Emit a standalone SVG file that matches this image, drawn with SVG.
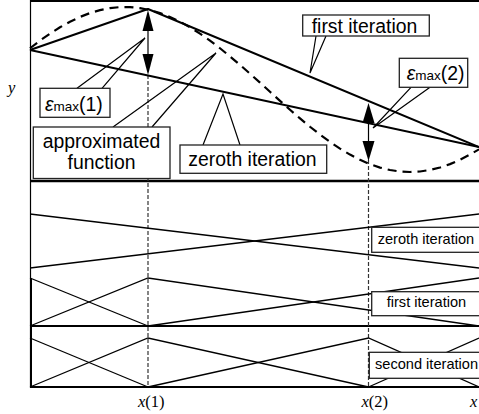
<svg xmlns="http://www.w3.org/2000/svg" width="479" height="414" viewBox="0 0 479 414">
<style>
.frame{stroke:#000;fill:none}
.curve{stroke:#000;stroke-width:2;fill:none;stroke-linejoin:round}
.dash{stroke:#000;stroke-width:2.2;fill:none;stroke-dasharray:9 6}
.guide{stroke:#333;stroke-width:1.2;fill:none;stroke-dasharray:4 2}
.hat{stroke:#000;stroke-width:1.3;fill:none}
.ptr{stroke:#000;stroke-width:1.2;fill:none}
.box{fill:#fff;stroke:#222;stroke-width:1.3}
.big{font-family:"Liberation Sans",Arial,sans-serif;font-size:19.4px;fill:#000}
.small{font-family:"Liberation Sans",Arial,sans-serif;font-size:14.6px;fill:#000}
.ax{font-family:"Liberation Serif","Times New Roman",serif;font-size:16.5px;fill:#000}
.head{fill:#000}
</style>
<g id="frame">
<line class="frame" x1="30" y1="1" x2="479" y2="1" stroke-width="2"/>
<line class="frame" x1="30.5" y1="0" x2="30.5" y2="388" stroke-width="1.2"/>
<line class="frame" x1="31" y1="278" x2="31" y2="388" stroke-width="2"/>
<line class="frame" x1="30" y1="181" x2="479" y2="181" stroke-width="2.5"/>
<line class="frame" x1="30" y1="326" x2="479" y2="326" stroke-width="2.2"/>
<line class="frame" x1="30" y1="387" x2="479" y2="387" stroke-width="2.2"/>
</g>
<g id="connectors">
<line class="guide" x1="148" y1="75" x2="148" y2="387"/>
<line class="guide" x1="368.5" y1="160" x2="368.5" y2="387"/>
<polyline class="hat" points="30,214 479,268"/>
<polyline class="hat" points="30,268 479,214"/>
<polyline class="hat" points="30,278 148,326"/>
<polyline class="hat" points="30,326 148,278 479,326"/>
<polyline class="hat" points="148,326 479,278"/>
<polyline class="hat" points="30,338 148,387"/>
<polyline class="hat" points="30,387 148,338 368.5,387"/>
<polyline class="hat" points="148,387 368.5,338 479,387"/>
<polyline class="hat" points="368.5,387 479,338"/>
<polyline class="curve" points="30,50 479,147"/>
<polyline class="curve" points="30,50 148,9 479,147"/>
<path class="dash" d="M30,48.25 L40,40.59 L50,33.62 L60,27.29 L70,21.7 L80,16.94 L90,13.06 L100,10.11 L110,8.12 L120,7.12 L130,7.12 L140,8.12 L150,10.11 L160,13.06 L170,16.94 L180,21.7 L190,27.29 L200,33.62 L210,40.59 L220,48.25 L230,56.39 L240,64.9 L250,73.68 L260,82.69 L270,91.78 L280,100.83 L290,109.75 L300,118.42 L310,126.75 L320,134.62 L330,141.92 L340,148.65 L350,154.6 L360,159.8 L370,164.15 L380,167.57 L390,170.01 L400,171.5 L410,172 L420,171.49 L430,170 L440,167.54 L450,164.12 L460,159.77 L470,154.56 L479,149.35"/>
<line class="ptr" x1="148" y1="28" x2="148" y2="56" stroke-width="1.5"/>
<polygon class="head" points="148,10 142.5,31 153.5,31"/>
<polygon class="head" points="148,75 142.5,54 153.5,54"/>
<line class="ptr" x1="368.5" y1="120" x2="368.5" y2="144" stroke-width="1.5"/>
<polygon class="head" points="368.5,103 362.5,123 374.5,123"/>
<polygon class="head" points="368.5,161 362.5,141 374.5,141"/>
<polyline class="ptr" points="77,88.3 145,38 102,88.3"/>
<polyline class="ptr" points="113,127 216,53 152,127"/>
<polyline class="ptr" points="203,145 223,94 240,145"/>
<polyline class="ptr" points="316,36 310,73 326,36"/>
<polyline class="ptr" points="411,87.3 373,128 430,87.3"/>
</g>
<g id="label-emax1">
<rect class="box" x="40" y="88.3" width="70" height="29"/>
<text class="big" x="45" y="111"><tspan font-style="italic">ε</tspan><tspan font-size="13.5px">max</tspan>(1)</text>
</g>
<g id="label-approx">
<rect class="box" x="33.3" y="127" width="136.7" height="51.5"/>
<text class="big" x="101.5" y="148" text-anchor="middle">approximated</text>
<text class="big" x="101.5" y="168.5" text-anchor="middle">function</text>
</g>
<g id="label-zeroth-top">
<rect class="box" x="180" y="145" width="146.7" height="28.3"/>
<text class="big" x="188.3" y="166">zeroth iteration</text>
</g>
<g id="label-first-top">
<rect class="box" x="302.7" y="15" width="126.6" height="21"/>
<text class="big" x="311.7" y="32.5">first iteration</text>
</g>
<g id="label-emax2">
<rect class="box" x="399.3" y="58.3" width="68.4" height="29"/>
<text class="big" x="406.7" y="80"><tspan font-style="italic">ε</tspan><tspan font-size="13.5px">max</tspan>(2)</text>
</g>
<g id="label-zeroth-low">
<rect class="box" x="371.7" y="227.3" width="110" height="25"/>
<text class="small" x="377.7" y="244">zeroth iteration</text>
</g>
<g id="label-first-low">
<rect class="box" x="371.7" y="291.7" width="110" height="24"/>
<text class="small" x="386.7" y="306.7">first iteration</text>
</g>
<g id="label-second-low">
<rect class="box" x="369.3" y="352.3" width="112" height="26"/>
<text class="small" x="375" y="369">second iteration</text>
</g>
<g id="axis-labels">
<text class="ax" x="8" y="93" font-style="italic">y</text>
<text class="ax" x="138" y="407"><tspan font-style="italic">x</tspan>(1)</text>
<text class="ax" x="361.5" y="407"><tspan font-style="italic">x</tspan>(2)</text>
<text class="ax" x="470" y="407" font-style="italic">x</text>
</g>
</svg>
